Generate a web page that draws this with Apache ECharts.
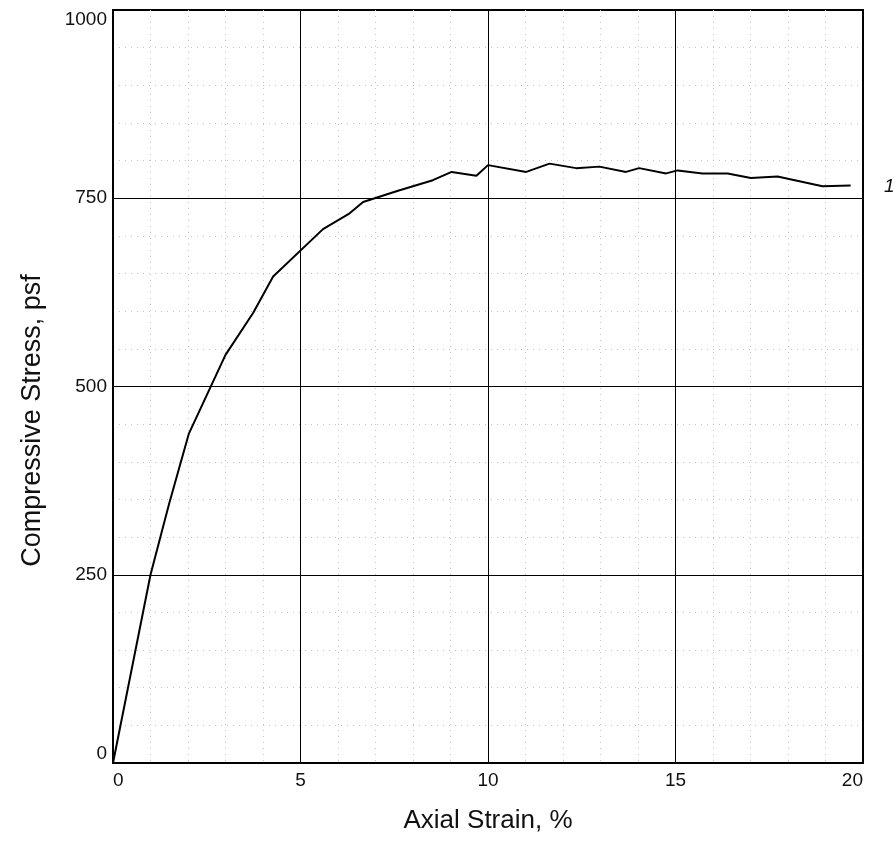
<!DOCTYPE html>
<html>
<head>
<meta charset="utf-8">
<script src="https://cdn.jsdelivr.net/npm/echarts@6/dist/echarts.min.js"></script>
<style>
    html, body { margin: 0; padding: 0; background: #fff; }
    #chart { width: 896px; height: 841px; }
</style>
</head>
<body>
<div id="chart"></div>
<script>
// values (axial strain %, compressive stress psf)
const strain = [0, 1.0, 1.5, 2.02, 3.0, 3.74, 4.27, 5.6, 6.31, 6.67, 7.6, 8.53, 9.03, 9.69, 10.0, 11.02, 11.64, 12.35, 12.97, 13.68, 14.03, 14.75, 15.06, 15.72, 16.39, 17.01, 17.72, 18.92, 19.67];
const stress = [0, 250, 345, 437, 542, 598, 646, 709, 730, 745, 760, 774, 785, 780, 794, 785, 796, 790, 792, 785, 790, 783, 787, 783, 783, 777, 779, 766, 767];
const xTicks = [0, 5, 10, 15, 20];
const yTicks = [0, 250, 500, 750, 1000];
const curveLabel = '1';

const chart = echarts.init(document.getElementById('chart'));
const font = 'Liberation Sans, Arial, sans-serif';
const minorStyle = { show: true, lineStyle: { color: '#c4c4c4', type: [1, 5], width: 1 } };

chart.setOption({
    animation: false,
    grid: {
        left: 113, right: 33, top: 10, bottom: 78,
        show: true, borderColor: '#000', borderWidth: 2
    },
    xAxis: {
        type: 'value',
        min: xTicks[0], max: xTicks[xTicks.length - 1], interval: 5,
        name: 'Axial Strain, %', nameLocation: 'middle', nameGap: 45,
        nameTextStyle: { fontFamily: font, fontSize: 26, color: '#111' },
        axisLine: { show: false },
        axisTick: { show: false },
        axisLabel: {
            fontFamily: font, fontSize: 19, color: '#111', margin: 8,
            alignMinLabel: 'left', alignMaxLabel: 'right'
        },
        splitLine: { show: true, lineStyle: { color: '#000', width: 1 } },
        minorTick: { show: false, splitNumber: 5 },
        minorSplitLine: minorStyle
    },
    yAxis: {
        type: 'value',
        min: yTicks[0], max: yTicks[yTicks.length - 1], interval: 250,
        name: 'Compressive Stress, psf', nameLocation: 'middle', nameGap: 67,
        nameTextStyle: { fontFamily: font, fontSize: 27, color: '#111', padding: [0, 68, 0, 0] },
        axisLine: { show: false },
        axisTick: { show: false },
        axisLabel: {
            fontFamily: font, fontSize: 19, color: '#111', margin: 6,
            formatter: v => String(v),
            verticalAlignMinLabel: 'bottom', verticalAlignMaxLabel: 'top'
        },
        splitLine: { show: true, lineStyle: { color: '#000', width: 1 } },
        minorTick: { show: false, splitNumber: 5 },
        minorSplitLine: minorStyle
    },
    graphic: [{
        type: 'text', left: 884, top: 177,
        style: { text: curveLabel, font: 'italic 19px ' + font, fill: '#111' }
    }],
    series: [{
        type: 'line',
        symbol: 'none',
        data: strain.map((s, i) => [s, stress[i]]),
        lineStyle: { color: '#000', width: 2 }
    }]
});
</script>
</body>
</html>
